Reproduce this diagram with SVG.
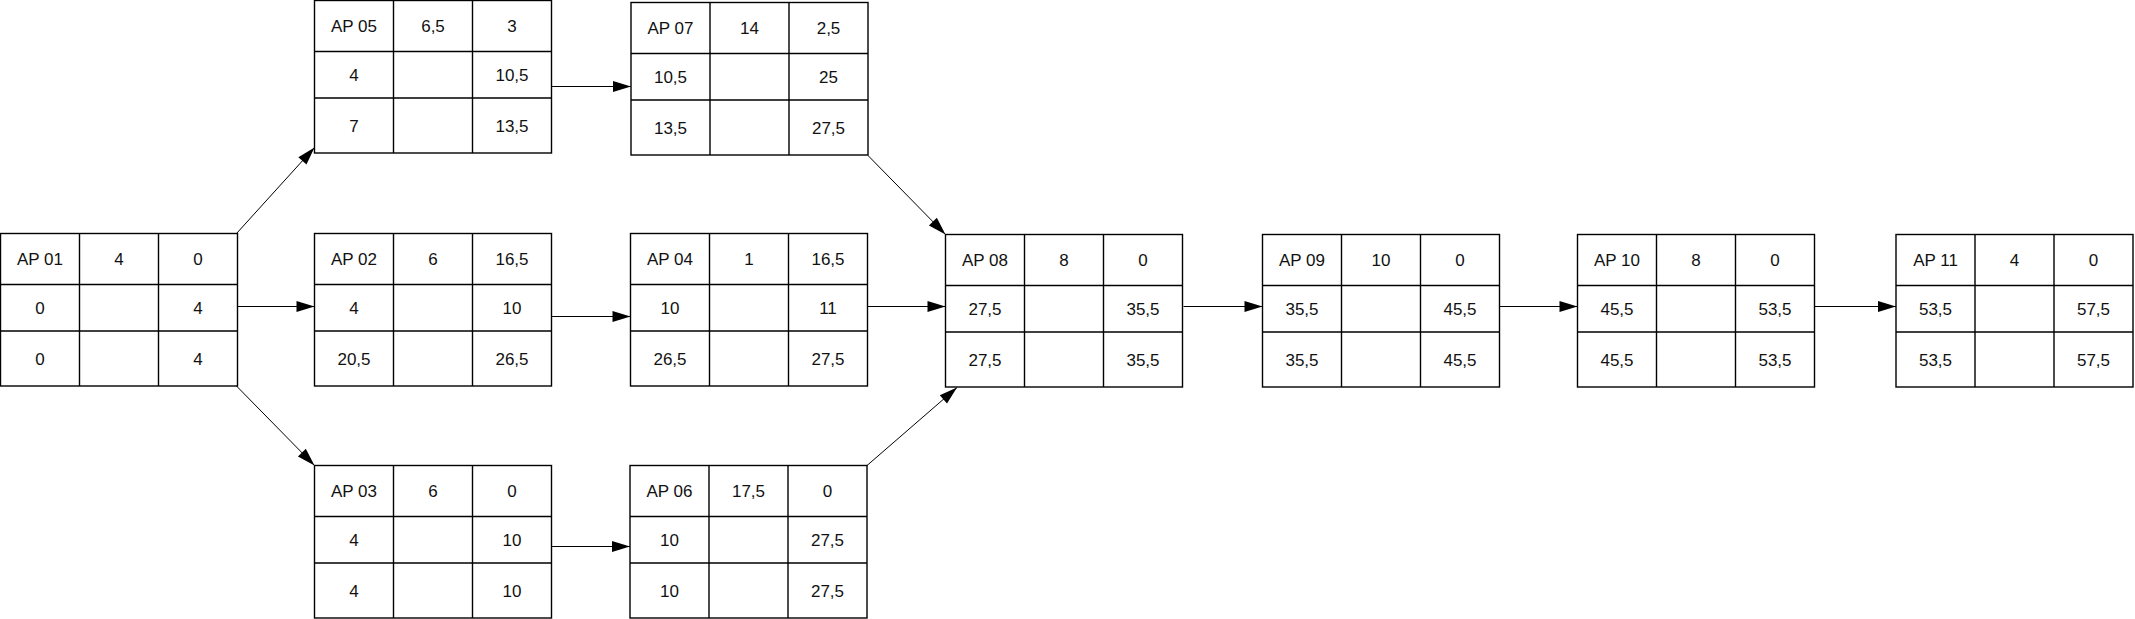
<svg xmlns="http://www.w3.org/2000/svg" xmlns:xlink="http://www.w3.org/1999/xlink" width="2135" height="619" viewBox="0 0 2135 619">
<style>
.box{fill:#fff;stroke:#000;stroke-width:1.4}
.grid{stroke:#000;stroke-width:1.4;fill:none}
.lbl{font-family:"Liberation Sans",Arial,sans-serif;font-size:17px;fill:#111;text-anchor:middle}
.conn{stroke:#000;stroke-width:1;fill:none;marker-end:url(#arr)}
</style>
<defs>
<marker id="arr" markerUnits="userSpaceOnUse" markerWidth="20" markerHeight="14" refX="18" refY="5.5" orient="auto" overflow="visible">
<path d="M0,0 L18,5.5 L0,11 Z" fill="#000"/>
</marker>
<g id="frame">
<rect class="box" x="0" y="0" width="237" height="152.5"/>
<path class="grid" d="M79,0 V152.5 M158,0 V152.5 M0,51 H237 M0,97.5 H237"/>
</g>
</defs>
<rect width="2135" height="619" fill="#fff"/>
<g id="connectors">
<line class="conn" x1="236.5" y1="233.5" x2="314.5" y2="147.5"/>
<line class="conn" x1="236.5" y1="306.5" x2="314.5" y2="306.5"/>
<line class="conn" x1="236.5" y1="386" x2="314.5" y2="465.5"/>
<line class="conn" x1="552" y1="86.5" x2="631" y2="86.5"/>
<line class="conn" x1="552" y1="316.5" x2="630.5" y2="316.5"/>
<line class="conn" x1="552" y1="546.5" x2="630" y2="546.5"/>
<line class="conn" x1="868" y1="155.5" x2="945.5" y2="234.5"/>
<line class="conn" x1="867.5" y1="306.5" x2="945.5" y2="306.5"/>
<line class="conn" x1="867" y1="465.5" x2="957" y2="387.5"/>
<line class="conn" x1="1183.5" y1="306.5" x2="1262.5" y2="306.5"/>
<line class="conn" x1="1500" y1="306.5" x2="1577.5" y2="306.5"/>
<line class="conn" x1="1815" y1="306.5" x2="1896" y2="306.5"/>
</g>
<g id="ap01" transform="translate(0.5,233.5)"><use xlink:href="#frame"/>
<text class="lbl" x="39.5" y="31.5">AP 01</text><text class="lbl" x="118.5" y="31.5">4</text><text class="lbl" x="197.5" y="31.5">0</text>
<text class="lbl" x="39.5" y="80.3">0</text><text class="lbl" x="197.5" y="80.3">4</text>
<text class="lbl" x="39.5" y="131">0</text><text class="lbl" x="197.5" y="131">4</text></g>
<g id="ap05" transform="translate(314.5,0.5)"><use xlink:href="#frame"/>
<text class="lbl" x="39.5" y="31.5">AP 05</text><text class="lbl" x="118.5" y="31.5">6,5</text><text class="lbl" x="197.5" y="31.5">3</text>
<text class="lbl" x="39.5" y="80.3">4</text><text class="lbl" x="197.5" y="80.3">10,5</text>
<text class="lbl" x="39.5" y="131">7</text><text class="lbl" x="197.5" y="131">13,5</text></g>
<g id="ap02" transform="translate(314.5,233.5)"><use xlink:href="#frame"/>
<text class="lbl" x="39.5" y="31.5">AP 02</text><text class="lbl" x="118.5" y="31.5">6</text><text class="lbl" x="197.5" y="31.5">16,5</text>
<text class="lbl" x="39.5" y="80.3">4</text><text class="lbl" x="197.5" y="80.3">10</text>
<text class="lbl" x="39.5" y="131">20,5</text><text class="lbl" x="197.5" y="131">26,5</text></g>
<g id="ap03" transform="translate(314.5,465.5)"><use xlink:href="#frame"/>
<text class="lbl" x="39.5" y="31.5">AP 03</text><text class="lbl" x="118.5" y="31.5">6</text><text class="lbl" x="197.5" y="31.5">0</text>
<text class="lbl" x="39.5" y="80.3">4</text><text class="lbl" x="197.5" y="80.3">10</text>
<text class="lbl" x="39.5" y="131">4</text><text class="lbl" x="197.5" y="131">10</text></g>
<g id="ap07" transform="translate(631,2.5)"><use xlink:href="#frame"/>
<text class="lbl" x="39.5" y="31.5">AP 07</text><text class="lbl" x="118.5" y="31.5">14</text><text class="lbl" x="197.5" y="31.5">2,5</text>
<text class="lbl" x="39.5" y="80.3">10,5</text><text class="lbl" x="197.5" y="80.3">25</text>
<text class="lbl" x="39.5" y="131">13,5</text><text class="lbl" x="197.5" y="131">27,5</text></g>
<g id="ap04" transform="translate(630.5,233.5)"><use xlink:href="#frame"/>
<text class="lbl" x="39.5" y="31.5">AP 04</text><text class="lbl" x="118.5" y="31.5">1</text><text class="lbl" x="197.5" y="31.5">16,5</text>
<text class="lbl" x="39.5" y="80.3">10</text><text class="lbl" x="197.5" y="80.3">11</text>
<text class="lbl" x="39.5" y="131">26,5</text><text class="lbl" x="197.5" y="131">27,5</text></g>
<g id="ap06" transform="translate(630,465.5)"><use xlink:href="#frame"/>
<text class="lbl" x="39.5" y="31.5">AP 06</text><text class="lbl" x="118.5" y="31.5">17,5</text><text class="lbl" x="197.5" y="31.5">0</text>
<text class="lbl" x="39.5" y="80.3">10</text><text class="lbl" x="197.5" y="80.3">27,5</text>
<text class="lbl" x="39.5" y="131">10</text><text class="lbl" x="197.5" y="131">27,5</text></g>
<g id="ap08" transform="translate(945.5,234.5)"><use xlink:href="#frame"/>
<text class="lbl" x="39.5" y="31.5">AP 08</text><text class="lbl" x="118.5" y="31.5">8</text><text class="lbl" x="197.5" y="31.5">0</text>
<text class="lbl" x="39.5" y="80.3">27,5</text><text class="lbl" x="197.5" y="80.3">35,5</text>
<text class="lbl" x="39.5" y="131">27,5</text><text class="lbl" x="197.5" y="131">35,5</text></g>
<g id="ap09" transform="translate(1262.5,234.5)"><use xlink:href="#frame"/>
<text class="lbl" x="39.5" y="31.5">AP 09</text><text class="lbl" x="118.5" y="31.5">10</text><text class="lbl" x="197.5" y="31.5">0</text>
<text class="lbl" x="39.5" y="80.3">35,5</text><text class="lbl" x="197.5" y="80.3">45,5</text>
<text class="lbl" x="39.5" y="131">35,5</text><text class="lbl" x="197.5" y="131">45,5</text></g>
<g id="ap10" transform="translate(1577.5,234.5)"><use xlink:href="#frame"/>
<text class="lbl" x="39.5" y="31.5">AP 10</text><text class="lbl" x="118.5" y="31.5">8</text><text class="lbl" x="197.5" y="31.5">0</text>
<text class="lbl" x="39.5" y="80.3">45,5</text><text class="lbl" x="197.5" y="80.3">53,5</text>
<text class="lbl" x="39.5" y="131">45,5</text><text class="lbl" x="197.5" y="131">53,5</text></g>
<g id="ap11" transform="translate(1896,234.5)"><use xlink:href="#frame"/>
<text class="lbl" x="39.5" y="31.5">AP 11</text><text class="lbl" x="118.5" y="31.5">4</text><text class="lbl" x="197.5" y="31.5">0</text>
<text class="lbl" x="39.5" y="80.3">53,5</text><text class="lbl" x="197.5" y="80.3">57,5</text>
<text class="lbl" x="39.5" y="131">53,5</text><text class="lbl" x="197.5" y="131">57,5</text></g>
</svg>
